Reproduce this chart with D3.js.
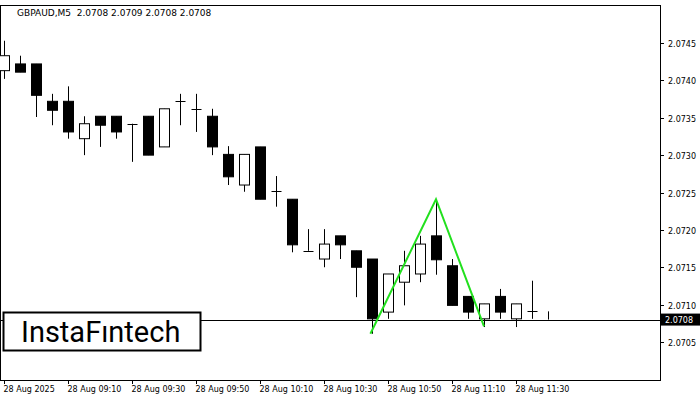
<!DOCTYPE html>
<html><head><meta charset="utf-8">
<script src="https://cdn.jsdelivr.net/npm/d3@7"></script>
<style>body{margin:0;background:#fff}</style></head>
<body><svg id="c" width="700" height="400"></svg>
<script>
const opens  = [2.07413,2.07422,2.07422,2.07372,2.07372,2.07322,2.07352,2.07352,2.07342,2.07352,2.07311,2.07372,2.07362,2.07352,2.07301,2.07260,2.07311,2.07252,2.07241,2.07172,2.07161,2.07192,2.07172,2.07161,2.07090,2.07130,2.07141,2.07192,2.07152,2.07111,2.07081,2.07111,2.07081,2.07091,2.0708];
const highs  = [2.07453,2.07433,2.07422,2.07382,2.07392,2.07352,2.07352,2.07352,2.07342,2.07352,2.07362,2.07382,2.07382,2.07362,2.07312,2.07301,2.07311,2.07272,2.07241,2.07201,2.07201,2.07192,2.07172,2.07161,2.07141,2.07172,2.07192,2.07241,2.07161,2.07111,2.07101,2.07121,2.07101,2.07132,2.07091];
const lows   = [2.07402,2.07411,2.07351,2.07340,2.07322,2.07300,2.07311,2.07322,2.07291,2.07300,2.07311,2.07340,2.07331,2.07300,2.07260,2.07251,2.07241,2.07231,2.07170,2.07172,2.07150,2.07161,2.07110,2.07061,2.07081,2.07099,2.07130,2.07140,2.07099,2.07081,2.07070,2.07081,2.07070,2.07081,2.0708];
const closes = [2.07433,2.07411,2.07380,2.07360,2.07331,2.07342,2.07340,2.07331,2.07342,2.07300,2.07362,2.07372,2.07362,2.07311,2.07271,2.07301,2.07241,2.07252,2.07180,2.07172,2.07181,2.07180,2.07150,2.07081,2.07141,2.07152,2.07181,2.07160,2.07099,2.07090,2.07101,2.07090,2.07101,2.07091,2.0708];
const timeLabels = ["28 Aug 2025","28 Aug 09:10","28 Aug 09:30","28 Aug 09:50","28 Aug 10:10","28 Aug 10:30","28 Aug 10:50","28 Aug 11:10","28 Aug 11:30"];
const priceTicks = [2.0705,2.0710,2.0715,2.0720,2.0725,2.0730,2.0735,2.0740,2.0745];
const patternIdx = [22.9, 27, 30];
const patternPrice = [2.07061, 2.07241, 2.07071];
const lastPrice = 2.0708;

const svg = d3.select("#c");
const W = 660, H = 380;
const FONT = "DejaVu Sans, sans-serif";
const x = d3.scaleLinear().domain([0, 1]).range([4, 20]);
const y = d3.scaleLinear().domain([2.0705, 2.0745]).range([342, 43]);

svg.append("rect").attr("x",0.5).attr("y",5.5).attr("width",W).attr("height",H-5)
  .attr("fill","none").attr("stroke","#000");

// price axis
priceTicks.forEach(p => {
  const yy = Math.round(y(p))+0.5;
  svg.append("line").attr("x1",W).attr("x2",W+4).attr("y1",yy).attr("y2",yy).attr("stroke","#000");
  svg.append("text").attr("x",W+8).attr("y",yy+3).text(p.toFixed(4))
    .attr("font-family",FONT).attr("font-size",8);
});

// time axis
timeLabels.forEach((t,i) => {
  const xx = Math.round(x(i*4))+0.5;
  svg.append("line").attr("x1",xx).attr("x2",xx).attr("y1",H).attr("y2",H+4).attr("stroke","#000");
  svg.append("text").attr("x",xx-1).attr("y",H+12).text(t)
    .attr("font-family",FONT).attr("font-size",8);
});

// current price line
svg.append("line").attr("x1",0).attr("x2",W).attr("y1",Math.round(y(lastPrice))+0.5).attr("y2",Math.round(y(lastPrice))+0.5)
  .attr("stroke","#000");

// candles
opens.forEach((o,i) => {
  const c = closes[i], cx = Math.round(x(i))+0.5;
  svg.append("line").attr("x1",cx).attr("x2",cx).attr("y1",y(highs[i])).attr("y2",y(lows[i])).attr("stroke","#000");
  const top = y(Math.max(o,c)), bot = y(Math.min(o,c));
  if (bot - top < 1) {
    svg.append("line").attr("x1",cx-5).attr("x2",cx+5).attr("y1",Math.round(top)+0.5).attr("y2",Math.round(top)+0.5).attr("stroke","#000");
  } else {
    svg.append("rect").attr("x",cx-5).attr("y",top).attr("width",10).attr("height",bot-top)
      .attr("fill", c >= o ? "#fff" : "#000").attr("stroke","#000");
  }
});

// pattern
svg.append("path")
  .attr("d", d3.line()(patternIdx.map((d,i) => [x(d), y(patternPrice[i])])))
  .attr("fill","none").attr("stroke","#22e01e").attr("stroke-width",2);

// last price label
svg.append("rect").attr("x",W+1).attr("y",y(lastPrice)-6).attr("width",39).attr("height",12).attr("fill","#000");
svg.append("text").attr("x",W+5).attr("y",y(lastPrice)+3).text(lastPrice.toFixed(4)).attr("fill","#fff")
  .attr("font-family",FONT).attr("font-size",8);

// title
svg.append("text").attr("x",17).attr("y",16).text("GBPAUD,M5  2.0708 2.0709 2.0708 2.0708")
  .attr("font-family",FONT).attr("font-size",9).attr("xml:space","preserve");

// logo
svg.append("rect").attr("x",3.5).attr("y",312.5).attr("width",197).attr("height",38)
  .attr("fill","#fff").attr("stroke","#000").attr("stroke-width",2);
svg.append("text").attr("x",21).attr("y",342).text("InstaFıntech")
  .attr("font-family","Roboto, sans-serif").attr("font-size",29);
</script></body></html>
